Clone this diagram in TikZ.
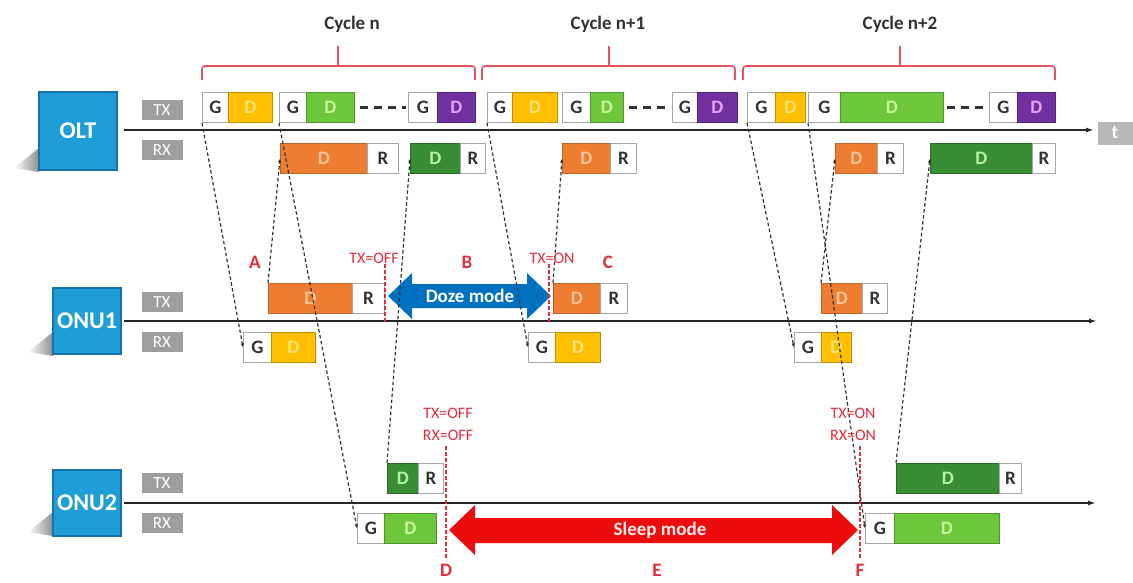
\documentclass[tikz,border=0pt]{standalone}
\usepackage{fontspec}
\setmainfont{Carlito}
\usetikzlibrary{arrows.meta}

\definecolor{unitblue}{RGB}{30,157,215}
\definecolor{unitedge}{RGB}{22,115,170}
\definecolor{lblgray}{RGB}{158,158,158}
\definecolor{cyel}{RGB}{255,192,0}
\definecolor{cyeltxt}{RGB}{255,226,120}
\definecolor{cgrn}{RGB}{108,200,58}
\definecolor{cgrntxt}{RGB}{200,245,160}
\definecolor{cpur}{RGB}{112,48,160}
\definecolor{cpurtxt}{RGB}{235,160,255}
\definecolor{corg}{RGB}{237,125,49}
\definecolor{corgtxt}{RGB}{255,196,150}
\definecolor{cdgr}{RGB}{56,140,50}
\definecolor{cdgrtxt}{RGB}{180,245,170}
\definecolor{marker}{RGB}{225,45,60}
\definecolor{brkred}{RGB}{228,85,95}
\definecolor{dozeblue}{RGB}{0,112,192}
\definecolor{sleepred}{RGB}{236,12,12}
\definecolor{cyctxt}{RGB}{50,50,50}

\tikzset{
  unit/.style={fill=unitblue, draw=unitedge, line width=1.2pt, text=white,
    inner sep=0pt, font=\bfseries\fontsize{24}{24}\selectfont},
  lbl/.style={fill=lblgray, inner sep=0pt, minimum width=41, minimum height=20,
    text=white, font=\fontsize{17}{17}\selectfont},
  seg/.style={anchor=north west, inner sep=0pt, minimum height=30, line width=0.9pt,
    font=\bfseries\fontsize{19}{19}\selectfont},
  gseg/.style={seg, draw=black!35, fill=white, text=black!80},
  yseg/.style={seg, draw=cyel!75!black, fill=cyel, text=cyeltxt},
  grseg/.style={seg, draw=cgrn!75!black, fill=cgrn, text=cgrntxt},
  pseg/.style={seg, draw=cpur!75!black, fill=cpur, text=cpurtxt},
  oseg/.style={seg, draw=corg!80!black, fill=corg, text=corgtxt},
  dseg/.style={seg, draw=cdgr!75!black, fill=cdgr, text=cdgrtxt},
  axisline/.style={line width=1.8pt, black!85, -{Latex[length=8pt,width=5pt]}},
  brk/.style={draw=brkred, line width=1.6pt, rounded corners=3pt},
  cyc/.style={text=cyctxt, font=\bfseries\fontsize{19}{19}\selectfont},
  conn/.style={line width=1.2pt, black!80, dash pattern=on 3.5pt off 2.5pt,
    -{Latex[length=4pt,width=3.5pt]}},
  gapline/.style={line width=2.2pt, black!80, dash pattern=on 8pt off 6pt},
  switchline/.style={draw=marker, line width=1.6pt, dash pattern=on 4pt off 2pt},
  mlbl/.style={text=marker, font=\fontsize{16}{16}\selectfont},
  mletter/.style={text=marker, font=\bfseries\fontsize{19}{19}\selectfont},
  shadowfade/.style={left color=white, right color=black!45}
}

\begin{document}
\begin{tikzpicture}[x=1pt,y=-1pt]
\useasboundingbox (0,0) rectangle (1133,582);
\fill[white] (0,0) rectangle (1133,582);

% cycle brackets
\draw[brk] (202,80) -- (202,66) -- (475,66) -- (475,80);
\draw[brk] (338,66) -- (338,46);
\draw[brk] (482,80) -- (482,66) -- (735,66) -- (735,80);
\draw[brk] (609,66) -- (609,46);
\draw[brk] (743,80) -- (743,66) -- (1055,66) -- (1055,80);
\draw[brk] (900,66) -- (900,46);
\node[cyc] (cyc1) at (352,24) {Cycle n};
\node[cyc] (cyc2) at (608,24) {Cycle n+1};
\node[cyc] (cyc3) at (900,24) {Cycle n+2};

% network units with their soft shadows
\shade[shadowfade] (14,168) -- (39,148) -- (39,172) -- cycle;
\node[unit, minimum width=78, minimum height=78] (olt) at (78,131) {OLT};
\shade[shadowfade] (28,352) -- (53,332) -- (53,356) -- cycle;
\node[unit, minimum width=68, minimum height=66] (onu1) at (87,321) {ONU1};
\shade[shadowfade] (28,532) -- (53,512) -- (53,536) -- cycle;
\node[unit, minimum width=68, minimum height=66] (onu2) at (87,503) {ONU2};

% TX / RX tags
\node[lbl] (olttx) at (162,110) {TX};
\node[lbl] (oltrx) at (162,150) {RX};
\node[lbl] (u1tx) at (162,302) {TX};
\node[lbl] (u1rx) at (162,342) {RX};
\node[lbl] (u2tx) at (162,483) {TX};
\node[lbl] (u2rx) at (162,523) {RX};
\node[lbl, minimum width=35, minimum height=23, fill=black!28,
  font=\bfseries\fontsize{19}{19}\selectfont] (tlbl) at (1115,133) {t};

% time axes
\coordinate (oltA) at (124,130);  \coordinate (oltB) at (1094,130);
\coordinate (u1A) at (124,321);   \coordinate (u1B) at (1097,321);
\coordinate (u2A) at (124,503);   \coordinate (u2B) at (1096,503);
\draw[axisline] (oltA) -- (oltB);
\draw[axisline] (u1A) -- (u1B);
\draw[axisline] (u2A) -- (u2B);

% OLT downstream frames
\node[gseg, minimum width=26] (ta1g) at (202,92) {G};
\node[yseg, minimum width=44] (ta1d) at (228,92) {D};
\node[gseg, minimum width=27] (ta2g) at (279,92) {G};
\node[grseg, minimum width=48] (ta2d) at (306,92) {D};
\node[gseg, minimum width=29] (ta3g) at (408,92) {G};
\node[pseg, minimum width=38] (ta3d) at (437,92) {D};
\node[gseg, minimum width=25] (tb1g) at (487,92) {G};
\node[yseg, minimum width=45] (tb1d) at (512,92) {D};
\node[gseg, minimum width=28] (tb2g) at (562,92) {G};
\node[grseg, minimum width=33] (tb2d) at (590,92) {D};
\node[gseg, minimum width=25] (tb3g) at (672,92) {G};
\node[pseg, minimum width=40] (tb3d) at (697,92) {D};
\node[gseg, minimum width=28] (tc1g) at (747,92) {G};
\node[yseg, minimum width=30] (tc1d) at (775,92) {D};
\node[gseg, minimum width=32] (tc2g) at (808,92) {G};
\node[grseg, minimum width=103] (tc2d) at (840,92) {D};
\node[gseg, minimum width=28] (tc3g) at (989,92) {G};
\node[pseg, minimum width=38] (tc3d) at (1017,92) {D};
\draw[gapline] ([xshift=5pt]ta2d.east) -- ([xshift=-2pt]ta3g.west);
\draw[gapline] ([xshift=5pt]tb2d.east) -- ([xshift=-2pt]tb3g.west);
\draw[gapline] ([xshift=3pt]tc2d.east) -- ([xshift=-2pt]tc3g.west);

% OLT upstream bursts
\node[oseg, minimum width=87] (ra1d) at (280,143) {D};
\node[gseg, minimum width=31] (ra1r) at (367,143) {R};
\node[dseg, minimum width=50] (ra2d) at (410,143) {D};
\node[gseg, minimum width=25] (ra2r) at (460,143) {R};
\node[oseg, minimum width=48] (rb1d) at (562,143) {D};
\node[gseg, minimum width=26] (rb1r) at (610,143) {R};
\node[oseg, minimum width=42] (rc1d) at (835,143) {D};
\node[gseg, minimum width=26] (rc1r) at (877,143) {R};
\node[dseg, minimum width=102] (rc2d) at (930,143) {D};
\node[gseg, minimum width=23] (rc2r) at (1032,143) {R};

% ONU1 upstream bursts
\node[oseg, minimum width=84] (u1tad) at (268,283) {D};
\node[gseg, minimum width=32] (u1tar) at (352,283) {R};
\node[oseg, minimum width=47] (u1tbd) at (553,283) {D};
\node[gseg, minimum width=27] (u1tbr) at (600,283) {R};
\node[oseg, minimum width=41] (u1tcd) at (821,283) {D};
\node[gseg, minimum width=25] (u1tcr) at (862,283) {R};

% ONU1 received frames
\node[gseg, minimum width=28] (u1rag) at (243,332) {G};
\node[yseg, minimum width=44] (u1rad) at (271,332) {D};
\node[gseg, minimum width=27] (u1rbg) at (528,332) {G};
\node[yseg, minimum width=45] (u1rbd) at (555,332) {D};
\node[gseg, minimum width=27] (u1rcg) at (794,332) {G};
\node[yseg, minimum width=30] (u1rcd) at (821,332) {D};

% ONU2 upstream bursts
\node[dseg, minimum width=31] (u2tad) at (387,463) {D};
\node[gseg, minimum width=25] (u2tar) at (418,463) {R};
\node[dseg, minimum width=103] (u2tbd) at (896,463) {D};
\node[gseg, minimum width=22] (u2tbr) at (999,463) {R};

% ONU2 received frames
\node[gseg, minimum width=27] (u2rag) at (357,513) {G};
\node[grseg, minimum width=52] (u2rad) at (384,513) {D};
\node[gseg, minimum width=29] (u2rbg) at (865,513) {G};
\node[grseg, minimum width=105] (u2rbd) at (894,513) {D};

% doze and sleep periods
\fill[dozeblue] (388,296) -- (412,273) -- (412,284) -- (527,284) -- (527,273)
  -- (551,296) -- (527,319) -- (527,308) -- (412,308) -- (412,319) -- cycle;
\node[text=white, font=\bfseries\fontsize{19}{19}\selectfont] (doze) at (470,296) {Doze mode};
\fill[sleepred] (449,530) -- (475,505) -- (475,518) -- (832,518) -- (832,505)
  -- (858,530) -- (832,555) -- (832,543) -- (475,543) -- (475,555) -- cycle;
\node[text=white!92!red, font=\bfseries\fontsize{19}{19}\selectfont] (sleep) at (660,530) {Sleep mode};

% transceiver switching instants
\coordinate (offA) at (385,264); \coordinate (offB) at (385,322);
\coordinate (onA) at (549,264);  \coordinate (onB) at (549,322);
\coordinate (dA) at (446,446);   \coordinate (dB) at (446,559);
\coordinate (fA) at (860,446);   \coordinate (fB) at (860,559);
\draw[switchline] (offA) -- (offB);
\draw[switchline] (onA) -- (onB);
\draw[switchline] (dA) -- (dB);
\draw[switchline] (fA) -- (fB);

% propagation of frames
\draw[conn] (ta1g.south west) -- (u1rag.west);
\draw[conn] (ta2g.south west) -- (u2rag.west);
\draw[conn] (u1tad.north west) -- (ra1d.west);
\draw[conn] (u2tad.north west) -- (ra2d.west);
\draw[conn] (tb1g.south west) -- (u1rbg.west);
\draw[conn] (u1tbd.north west) -- (rb1d.west);
\draw[conn] (tc1g.south west) -- (u1rcg.west);
\draw[conn] (tc2g.south west) -- (u2rbg.west);
\draw[conn] (u1tcd.north west) -- (rc1d.west);
\draw[conn] (u2tbd.north west) -- (rc2d.west);

% state labels
\node[mletter] (la) at (255,262) {A};
\node[mlbl] (ltxoff) at (374,258) {TX=OFF};
\node[mletter] (lb) at (467,262) {B};
\node[mlbl] (ltxon) at (552,258) {TX=ON};
\node[mletter] (lc) at (608,262) {C};
\node[mlbl] (l2txoff) at (448,413) {TX=OFF};
\node[mlbl] (l2rxoff) at (448,435) {RX=OFF};
\node[mlbl] (l2txon) at (853,413) {TX=ON};
\node[mlbl] (l2rxon) at (853,435) {RX=ON};
\node[mletter] (ld) at (446,570) {D};
\node[mletter] (le) at (657,570) {E};
\node[mletter] (lf) at (860,570) {F};
\end{tikzpicture}
\end{document}
